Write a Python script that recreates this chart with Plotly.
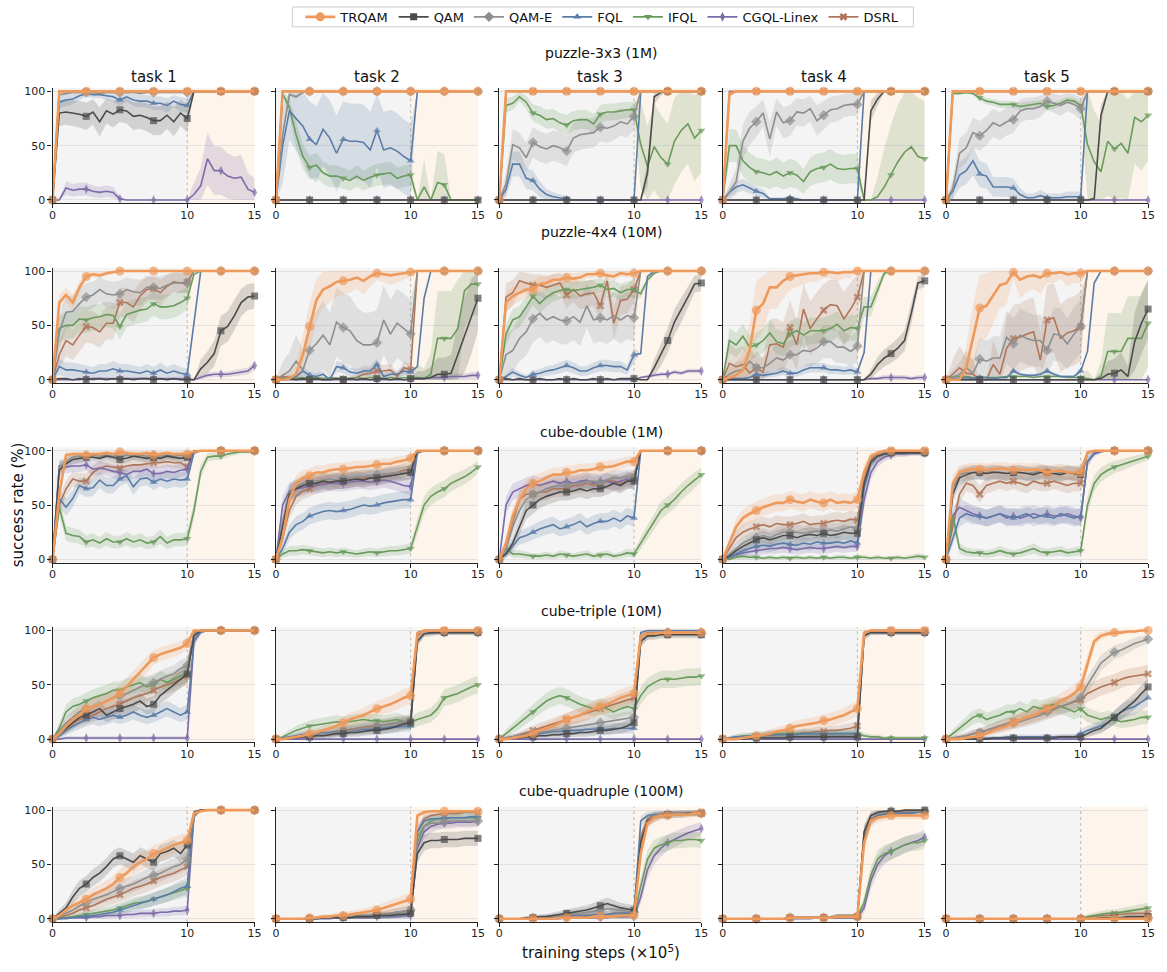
import math
import plotly.graph_objects as go

# ---------------------------------------------------------------- data
STEPS = [0, 0.5, 1, 1.5, 2, 2.5, 3, 3.5, 4, 4.5, 5, 5.5, 6, 6.5, 7, 7.5, 8, 8.5, 9, 9.5, 10,
         10.5, 11, 11.5, 12, 12.5, 13, 13.5, 14, 14.5, 15]
MARKER_STEPS = [0, 2.5, 5, 7.5, 10, 12.5, 15]
METHODS = ["TRQAM", "QAM", "QAM-E", "FQL", "IFQL", "CGQL-Linex", "DSRL"]
ROW_TITLES = ["puzzle-3x3 (1M)", "puzzle-4x4 (10M)", "cube-double (1M)",
              "cube-triple (10M)", "cube-quadruple (100M)"]
TASK_TITLES = ["task 1", "task 2", "task 3", "task 4", "task 5"]
X_TICKS = [0, 10, 15]
Y_TICKS = [0, 50, 100]

# ---- puzzle-3x3 (1M)
P33_T1 = {
    "TRQAM": [0,100,100,100,100,100,100,100,100,100,100, 100,100,100,100,100,100,100,100,100,100, 100,100,100,100,100,100,100,100,100,100],
    "QAM": [0,80,81,80,79,77,81,72,82,79,83, 82,77,78,76,73,73,78,72,80,75, 100,100,100,100,100,100,100,100,100,100],
    "QAM-E": [0,97,98,99,99,99,99,98,99,99,99, 99,99,98,99,99,99,99,99,99,99, 100,100,100,100,100,100,100,100,100,100],
    "FQL": [0,90,92,93,96,98,97,97,96,95,92, 95,92,91,91,89,89,87,91,88,87, 100,100,100,100,100,100,100,100,100,100],
    "IFQL": [0,100,100,100,100,100,100,100,100,100,100, 100,100,100,100,100,100,100,100,100,100, 100,100,100,100,100,100,100,100,100,100],
    "CGQL-Linex": [0,0,11,9,10,10,8,7,8,7,1, 0,0,0,0,0,0,0,0,0,0, 5,13,38,27,27,22,20,21,10,7],
    "DSRL": [0,100,100,100,100,100,100,100,100,100,100, 100,100,100,100,100,100,100,100,100,100, 100,100,100,100,100,100,100,100,100,100],
}
P33_T2 = {
    "TRQAM": [0,100,100,100,100,100,100,100,100,100,100, 100,100,100,100,100,100,100,100,100,100, 100,100,100,100,100,100,100,100,100,100],
    "QAM": [0,0,0,0,0,0,0,0,0,0,0, 0,0,0,0,0,0,0,0,0,0, 0,0,0,0,0,0,0,0,0,0],
    "QAM-E": [0,60,97,95,99,100,100,100,100,100,100, 100,100,100,100,100,100,100,100,100,100, 100,100,100,100,100,100,100,100,100,100],
    "FQL": [0,50,82,75,68,56,51,65,57,43,56, 54,54,53,46,64,46,48,45,40,36, 100,100,100,100,100,100,100,100,100,100],
    "IFQL": [0,98,85,60,40,30,32,25,22,22,20, 18,22,18,21,23,24,25,20,22,23, 0,12,0,16,14,0,0,0,0,0],
    "CGQL-Linex": [0,0,0,0,0,0,0,0,0,0,0, 0,0,0,0,0,0,0,0,0,0, 0,0,0,0,0,0,0,0,0,0],
    "DSRL": [0,100,100,100,100,100,100,100,100,100,100, 100,100,100,100,100,100,100,100,100,100, 100,100,100,100,100,100,100,100,100,100],
}
P33_T3 = {
    "TRQAM": [0,100,100,100,100,100,100,100,100,100,100, 100,100,100,100,100,100,100,100,100,100, 100,100,100,100,100,100,100,100,100,100],
    "QAM": [0,0,0,0,0,0,0,0,0,0,0, 0,0,0,0,0,0,0,0,0,0, 0,25,95,99,100,100,100,100,100,100],
    "QAM-E": [0,15,51,48,39,53,49,47,50,48,45, 57,60,61,62,67,66,68,72,70,77, 100,100,100,100,100,100,100,100,100,100],
    "FQL": [0,10,33,33,20,18,10,5,3,2,1, 0,0,0,0,0,0,0,0,0,0, 100,100,100,100,100,100,100,100,100,100],
    "IFQL": [0,87,89,95,90,80,78,74,75,71,69, 73,74,74,70,79,81,81,82,83,83, 51,31,49,39,33,54,64,70,57,64],
    "CGQL-Linex": [0,0,0,0,0,0,0,0,0,0,0, 0,0,0,0,0,0,0,0,0,0, 0,0,0,0,0,0,0,0,0,0],
    "DSRL": [0,100,100,100,100,100,100,100,100,100,100, 100,100,100,100,100,100,100,100,100,100, 100,100,100,100,100,100,100,100,100,100],
}
P33_T4 = {
    "TRQAM": [0,97,100,100,100,100,100,100,100,100,100, 100,100,100,100,100,100,100,100,100,100, 100,100,100,100,100,100,100,100,100,100],
    "QAM": [0,0,0,0,0,0,0,0,0,0,0, 0,0,0,0,0,0,0,0,0,0, 0,82,93,100,100,100,100,100,100,100],
    "QAM-E": [0,7,17,54,66,72,80,56,81,71,73, 81,80,84,73,78,83,84,87,88,88, 100,100,100,100,100,100,100,100,100,100],
    "FQL": [0,7,12,14,11,8,6,1,1,1,2, 1,0,0,0,0,0,0,0,0,0, 100,100,100,100,100,100,100,100,100,100],
    "IFQL": [0,50,50,36,30,26,25,23,26,22,25, 23,17,26,29,30,33,29,28,29,29, 0,0,3,12,23,35,44,49,40,38],
    "CGQL-Linex": [0,0,0,0,0,0,0,0,0,0,0, 0,0,0,0,0,0,0,0,0,0, 0,0,0,0,0,0,0,0,0,0],
    "DSRL": [0,100,100,100,100,100,100,100,100,100,100, 100,100,100,100,100,100,100,100,100,100, 100,100,100,100,100,100,100,100,100,100],
}
P33_T5 = {
    "TRQAM": [0,100,100,100,100,100,100,100,100,100,100, 100,100,100,100,100,100,100,100,100,100, 100,100,100,100,100,100,100,100,100,100],
    "QAM": [0,0,0,0,0,0,0,0,0,0,0, 0,0,0,0,0,0,0,0,0,0, 0,1,78,100,100,100,100,100,100,100],
    "QAM-E": [0,10,43,48,62,59,64,71,68,72,74, 82,84,84,86,91,89,87,90,88,84, 100,100,100,100,100,100,100,100,100,100],
    "FQL": [0,8,23,27,36,24,22,12,12,12,11, 5,2,2,4,2,2,2,3,3,3, 100,100,100,100,100,100,100,100,100,100],
    "IFQL": [0,98,98,99,98,94,91,90,88,88,88, 86,87,88,89,86,87,89,92,91,87, 51,35,26,54,47,52,43,76,72,78],
    "CGQL-Linex": [0,0,0,0,0,0,0,0,0,0,0, 0,0,0,0,0,0,0,0,0,0, 0,0,0,0,0,0,0,0,0,0],
    "DSRL": [0,100,100,100,100,100,100,100,100,100,100, 100,100,100,100,100,100,100,100,100,100, 100,100,100,100,100,100,100,100,100,100],
}

# ---- puzzle-4x4 (10M)
P44_T1 = {
    "TRQAM": [0,71,78,71,85,95,97,96,98,99,100, 100,100,100,100,100,100,100,100,100,100, 100,100,100,100,100,100,100,100,100,100],
    "QAM": [0,1,1,0,1,0,1,1,0,1,0, 1,0,1,1,0,1,0,1,0,0, 0,10,16,24,45,49,59,71,76,77],
    "QAM-E": [0,44,62,63,70,76,78,83,79,78,79, 83,81,80,85,85,84,87,89,89,89, 100,100,100,100,100,100,100,100,100,100],
    "FQL": [0,12,9,9,8,7,6,8,8,10,8, 8,7,6,8,6,9,6,8,6,5, 55,100,100,100,100,100,100,100,100,100],
    "IFQL": [0,47,50,50,56,55,57,58,60,59,49, 60,62,64,65,70,67,67,68,71,75, 97,100,100,100,100,100,100,100,100,100],
    "CGQL-Linex": [0,0,0,0,0,1,0,1,1,1,1, 1,1,1,1,1,1,1,1,1,1, 0,2,4,5,5,5,6,7,8,13],
    "DSRL": [0,23,36,32,41,49,48,44,52,52,71, 71,67,77,83,84,80,86,90,89,90, 100,100,100,100,100,100,100,100,100,100],
}
P44_T2 = {
    "TRQAM": [0,0,1,5,23,49,73,83,86,90,91, 92,94,91,95,98,97,96,97,98,99, 100,100,100,100,100,100,100,100,100,100],
    "QAM": [0,0,1,0,1,0,1,0,0,1,0, 1,0,1,0,1,1,0,1,0,1, 1,1,2,5,5,6,23,41,58,75],
    "QAM-E": [0,4,8,17,9,27,33,41,32,53,48, 45,36,32,32,34,55,42,52,47,42, 100,100,100,100,100,100,100,100,100,100],
    "FQL": [0,1,1,3,8,4,3,5,0,12,11, 7,6,8,8,14,3,5,5,8,7, 12,75,100,100,100,100,100,100,100,100],
    "IFQL": [0,1,2,1,2,1,2,1,2,1,2, 1,2,1,2,2,1,2,1,2,2, 2,1,5,38,38,38,47,82,88,88],
    "CGQL-Linex": [0,0,0,0,0,0,0,0,0,0,0, 0,0,0,0,0,0,0,0,0,0, 1,1,2,2,2,3,3,3,4,4],
    "DSRL": [0,3,2,1,1,0,1,0,1,1,0, 1,2,5,6,8,8,9,3,11,9, 100,100,100,100,100,100,100,100,100,100],
}
P44_T3 = {
    "TRQAM": [0,71,77,80,83,83,88,89,92,92,94, 93,94,97,97,98,96,95,98,97,98, 100,100,100,100,100,100,100,100,100,100],
    "QAM": [0,1,0,1,0,0,1,0,0,1,0, 1,0,0,1,0,1,0,1,1,1, 0,0,11,23,36,53,64,76,88,89],
    "QAM-E": [0,23,27,38,44,56,61,55,58,55,54, 58,53,68,55,57,55,59,55,59,57, 100,100,100,100,100,100,100,100,100,100],
    "FQL": [0,3,7,4,2,5,6,8,9,11,13, 11,8,8,11,13,13,12,12,9,23, 24,95,100,100,100,100,100,100,100,100],
    "IFQL": [0,42,55,58,67,77,70,76,80,82,83, 82,83,84,85,87,83,84,80,83,83, 79,92,98,100,100,100,100,100,100,100],
    "CGQL-Linex": [0,0,0,0,0,0,0,0,0,0,0, 0,0,0,0,0,0,0,0,0,0, 2,3,4,5,5,7,6,8,8,8],
    "DSRL": [0,76,80,91,89,87,87,85,87,89,78, 83,77,79,80,68,91,52,73,74,83, 100,100,100,100,100,100,100,100,100,100],
}
P44_T4 = {
    "TRQAM": [0,2,4,9,27,64,70,85,85,91,95, 96,97,98,98,99,99,98,99,99,100, 100,100,100,100,100,100,100,100,100,100],
    "QAM": [0,0,0,0,0,0,0,0,0,0,0, 0,0,0,0,0,0,0,0,0,0, 0,5,14,20,24,29,36,61,89,91],
    "QAM-E": [0,5,8,9,17,11,11,15,20,18,23, 23,27,26,29,35,35,30,30,26,31, 100,100,100,100,100,100,100,100,100,100],
    "FQL": [0,1,1,1,2,5,4,5,6,8,6, 6,9,11,11,11,9,9,8,9,7, 25,100,100,100,100,100,100,100,100,100],
    "IFQL": [0,36,32,40,30,32,36,43,35,33,42, 45,41,45,45,45,47,51,45,48,47, 67,67,83,98,100,100,100,100,100,100],
    "CGQL-Linex": [0,0,0,0,0,0,0,0,0,0,0, 0,0,0,0,0,0,0,0,0,0, 0,1,1,2,2,2,2,1,2,2],
    "DSRL": [0,15,12,14,6,11,7,32,33,30,48, 32,65,47,56,64,69,68,56,65,76, 100,100,100,100,100,100,100,100,100,100],
}
P44_T5 = {
    "TRQAM": [0,0,0,11,38,66,68,78,87,89,99, 92,95,96,94,98,98,99,97,98,98, 100,100,100,100,100,100,100,100,100,100],
    "QAM": [0,0,0,0,0,0,0,0,0,0,0, 0,0,0,0,0,0,0,0,0,0, 0,0,1,5,6,9,3,35,52,65],
    "QAM-E": [0,2,5,11,6,19,17,20,20,39,33, 41,38,36,36,27,42,41,33,42,49, 100,100,100,100,100,100,100,100,100,100],
    "FQL": [0,1,1,2,1,2,2,1,2,2,8, 5,4,4,5,8,5,3,3,3,8, 26,89,100,100,100,100,100,100,100,100],
    "IFQL": [0,3,3,3,2,2,2,2,2,3,3, 3,3,2,3,3,3,3,2,2,2, 1,0,3,26,26,26,38,38,38,52],
    "CGQL-Linex": [0,0,0,0,0,0,0,0,0,0,0, 0,0,0,0,0,0,0,0,0,0, 0,0,0,0,0,0,0,0,0,0],
    "DSRL": [0,5,11,6,5,0,0,14,5,29,38, 39,42,44,18,55,57,38,43,45,49, 100,100,100,100,100,100,100,100,100,100],
}

# ---- cube-double (1M)
CD_T1 = {
    "TRQAM": [0,60,96,97,97,96,97,97,98,97,99, 98,97,97,98,96,97,98,97,97,97, 99,100,100,100,100,100,100,100,100,100],
    "QAM": [0,82,88,92,93,94,94,93,95,94,92, 93,95,94,93,94,93,95,94,93,94, 99,100,100,100,100,100,100,100,100,100],
    "QAM-E": [0,85,90,94,95,95,96,95,96,95,95, 96,95,96,95,96,95,96,95,96,95, 99,100,100,100,100,100,100,100,100,100],
    "FQL": [0,56,48,56,68,65,66,73,68,68,74, 77,67,74,75,71,74,72,74,73,74, 98,100,100,100,100,100,100,100,100,100],
    "IFQL": [0,48,24,22,21,16,18,15,19,16,16, 19,16,18,15,16,21,15,18,18,19, 45,81,94,95,95,97,98,99,99,99],
    "CGQL-Linex": [0,86,85,86,86,87,83,84,83,81,80, 78,81,81,83,79,79,81,80,82,83, 99,100,100,100,100,100,100,100,100,100],
    "DSRL": [0,50,65,74,72,72,80,84,86,85,84, 86,87,87,88,89,89,90,89,89,85, 100,100,100,100,100,100,100,100,100,100],
}
CD_T2 = {
    "TRQAM": [0,20,55,70,75,77,80,80,82,83,83, 84,85,85,86,87,88,88,90,91,93, 100,100,100,100,100,100,100,100,100,100],
    "QAM": [0,30,60,65,68,70,70,72,71,72,72, 73,74,73,75,75,76,77,78,79,80, 100,100,100,100,100,100,100,100,100,100],
    "QAM-E": [0,35,62,67,70,72,72,73,74,73,75, 75,76,76,77,78,78,79,80,80,81, 100,100,100,100,100,100,100,100,100,100],
    "FQL": [0,10,25,32,35,40,42,44,45,44,45, 46,48,50,49,50,52,53,54,55,55, 98,100,100,100,100,100,100,100,100,100],
    "IFQL": [0,5,8,8,9,8,7,6,7,6,7, 6,5,6,7,6,7,8,8,9,10, 30,50,58,62,65,70,73,76,80,85],
    "CGQL-Linex": [0,50,63,65,66,68,68,69,70,70,70, 71,72,72,71,72,73,72,70,68,67, 100,100,100,100,100,100,100,100,100,100],
    "DSRL": [0,20,45,58,63,65,68,70,71,72,72, 73,74,75,75,75,77,79,80,82,83, 100,100,100,100,100,100,100,100,100,100],
}
CD_T3 = {
    "TRQAM": [0,15,40,55,65,70,72,75,78,78,80, 80,82,82,83,85,85,86,88,90,90, 100,100,100,100,100,100,100,100,100,100],
    "QAM": [0,5,15,30,45,50,55,58,60,62,62, 63,65,63,65,65,67,70,68,72,72, 100,100,100,100,100,100,100,100,100,100],
    "QAM-E": [0,10,30,45,55,60,62,65,67,68,68, 70,70,72,72,70,73,75,75,76,75, 100,100,100,100,100,100,100,100,100,100],
    "FQL": [0,5,12,20,22,25,28,30,32,28,30, 32,35,30,33,35,35,38,35,40,38, 100,100,100,100,100,100,100,100,100,100],
    "IFQL": [0,10,5,5,4,3,3,4,3,5,4, 3,4,5,3,4,5,3,4,6,5, 15,25,35,45,50,55,62,68,73,78],
    "CGQL-Linex": [0,50,62,65,68,70,68,70,72,70,72, 70,72,73,70,72,72,70,72,74,72, 100,100,100,100,100,100,100,100,100,100],
    "DSRL": [0,10,35,55,60,60,62,62,65,65,65, 68,68,70,68,70,72,72,70,72,75, 100,100,100,100,100,100,100,100,100,100],
}
CD_T4 = {
    "TRQAM": [0,15,30,38,42,45,48,50,52,52,55, 53,52,55,53,52,55,52,53,52,55, 80,95,98,100,100,100,100,100,100,100],
    "QAM": [0,3,8,12,15,18,20,18,20,22,22, 20,22,23,22,24,22,23,25,24,24, 70,90,95,97,98,98,98,98,98,98],
    "QAM-E": [0,5,10,15,18,20,22,20,23,25,25, 25,24,25,26,25,27,26,28,30,28, 70,90,95,97,98,98,98,98,98,98],
    "FQL": [0,2,5,8,10,12,13,12,14,15,14, 13,15,14,16,15,15,16,15,17,15, 65,88,95,97,98,98,98,98,98,98],
    "IFQL": [0,0,2,3,2,2,1,2,1,2,1, 2,1,2,1,2,1,2,2,1,2, 2,1,2,1,1,2,1,2,3,2],
    "CGQL-Linex": [0,2,4,6,7,8,9,10,10,11,10, 9,10,11,10,10,11,12,11,12,12, 55,80,90,94,96,97,97,98,98,98],
    "DSRL": [0,10,20,25,28,30,32,30,33,32,32, 33,35,32,33,33,35,36,35,37,36, 75,92,97,99,100,100,100,100,100,100],
}
CD_T5 = {
    "TRQAM": [0,70,80,82,83,83,82,83,84,83,82, 83,82,83,82,80,81,82,80,80,80, 98,100,100,100,100,100,100,100,100,100],
    "QAM": [0,60,75,78,80,80,79,80,80,79,80, 80,79,78,80,80,79,78,80,79,78, 98,100,100,100,100,100,100,100,100,100],
    "QAM-E": [0,65,78,80,80,80,80,81,80,79,80, 80,79,80,81,80,79,80,80,79,80, 98,100,100,100,100,100,100,100,100,100],
    "FQL": [0,20,38,42,40,40,38,40,42,40,38, 40,42,38,40,40,38,42,40,38,40, 90,98,100,100,100,100,100,100,100,100],
    "IFQL": [0,40,10,7,6,6,5,6,8,6,5, 6,8,10,7,6,7,8,6,7,8, 50,70,78,82,85,87,89,91,93,95],
    "CGQL-Linex": [0,40,48,45,42,40,38,40,42,38,40, 38,40,42,40,42,40,40,42,40,38, 90,97,99,100,100,100,100,100,100,100],
    "DSRL": [0,30,60,70,68,60,68,70,72,70,72, 70,68,72,70,70,72,70,68,70,70, 98,100,100,100,100,100,100,100,100,100],
}

# ---- cube-triple (10M)
CT_T1 = {
    "TRQAM": [0,5,12,18,22,28,30,32,35,38,42, 48,55,62,68,75,78,80,82,84,88, 100,100,100,100,100,100,100,100,100,100],
    "QAM": [0,5,10,15,20,22,25,28,22,25,28, 30,32,35,30,32,40,45,50,55,60, 95,100,100,100,100,100,100,100,100,100],
    "QAM-E": [0,8,15,20,25,28,30,32,35,38,40, 42,45,48,50,52,55,58,60,65,68, 98,100,100,100,100,100,100,100,100,100],
    "FQL": [0,3,8,12,15,18,20,18,20,22,20, 22,25,22,20,22,25,28,25,22,25, 90,100,100,100,100,100,100,100,100,100],
    "IFQL": [0,10,25,30,32,35,38,40,42,45,45, 48,50,52,48,50,55,52,55,58,60, 98,100,100,100,100,100,100,100,100,100],
    "CGQL-Linex": [0,0,1,1,1,1,1,1,1,1,1, 1,1,1,1,1,1,1,1,1,1, 90,98,100,100,100,100,100,100,100,100],
    "DSRL": [0,5,10,15,18,20,22,25,28,30,32, 35,38,40,42,45,48,50,52,55,58, 98,100,100,100,100,100,100,100,100,100],
}
CT_T2 = {
    "TRQAM": [0,0,1,2,3,5,6,8,10,12,15, 18,20,22,25,28,30,32,35,38,40, 97,100,100,100,100,100,100,100,100,100],
    "QAM": [0,0,1,1,2,2,3,3,4,5,5, 6,6,7,8,8,9,10,12,14,15, 90,97,98,98,98,98,98,98,98,98],
    "QAM-E": [0,0,1,2,3,3,4,5,5,6,7, 8,9,10,11,12,13,14,15,16,17, 90,97,97,98,98,98,98,98,98,98],
    "FQL": [0,1,2,3,4,5,5,6,6,7,7, 8,8,9,9,10,10,11,11,12,12, 98,100,100,100,100,100,100,100,100,100],
    "IFQL": [0,2,5,8,10,12,13,14,15,16,15, 16,17,18,17,17,16,17,18,16,15, 18,20,22,28,38,40,42,45,48,50],
    "CGQL-Linex": [0,0,0,0,0,0,0,0,0,0,0, 0,0,0,0,0,0,0,0,0,0, 0,0,0,0,0,0,0,0,0,0],
    "DSRL": [0,0,1,2,3,3,4,5,6,7,8, 9,10,11,12,12,13,14,15,15,16, 95,100,100,100,100,100,100,100,100,100],
}
CT_T3 = {
    "TRQAM": [0,0,1,2,3,5,8,10,12,15,18, 20,22,25,28,30,32,35,38,40,42, 95,97,97,98,98,98,98,98,98,98],
    "QAM": [0,0,1,1,2,2,3,3,4,4,5, 5,6,6,7,8,8,9,10,12,15, 90,95,95,96,96,96,96,96,96,96],
    "QAM-E": [0,1,2,3,4,5,6,7,8,9,10, 11,12,13,14,15,16,17,18,19,20, 90,95,97,97,97,97,97,97,97,97],
    "FQL": [0,1,2,3,4,5,5,6,7,7,8, 8,8,9,9,9,9,10,10,10,10, 98,100,100,100,100,100,100,100,100,100],
    "IFQL": [0,5,10,15,20,25,30,35,38,40,38, 35,32,30,28,30,28,25,28,30,28, 40,48,52,55,55,55,56,57,57,58],
    "CGQL-Linex": [0,0,0,0,0,0,0,0,0,0,0, 0,0,0,0,0,0,0,0,0,0, 0,0,0,0,0,0,0,0,0,0],
    "DSRL": [0,1,2,4,6,8,10,12,14,16,18, 20,22,24,26,28,30,32,34,36,38, 95,98,98,98,98,98,98,98,98,98],
}
CT_T4 = {
    "TRQAM": [0,0,0,1,2,3,4,5,7,8,10, 12,13,14,15,17,18,20,22,25,28, 98,100,100,100,100,100,100,100,100,100],
    "QAM": [0,0,0,0,1,1,1,1,1,1,2, 2,2,2,2,2,2,2,2,2,2, 95,98,98,98,98,98,98,98,98,98],
    "QAM-E": [0,0,0,1,1,1,1,2,2,2,2, 2,2,3,3,3,3,3,3,3,3, 95,98,98,98,98,98,98,98,98,98],
    "FQL": [0,1,2,2,3,3,3,4,4,4,4, 4,5,5,5,5,5,5,5,5,5, 98,100,100,100,100,100,100,100,100,100],
    "IFQL": [0,1,2,3,3,4,4,5,5,5,5, 5,5,5,5,5,5,5,5,5,5, 3,2,2,1,1,1,1,1,1,1],
    "CGQL-Linex": [0,0,0,0,0,0,0,0,0,0,0, 0,0,0,0,0,0,0,0,0,0, 0,0,0,0,0,0,0,0,0,0],
    "DSRL": [0,0,1,1,2,2,3,3,4,4,5, 5,6,6,7,7,8,8,9,10,12, 98,100,100,100,100,100,100,100,100,100],
}
CT_T5 = {
    "TRQAM": [0,0,0,1,2,3,5,8,10,12,15, 18,20,22,25,28,30,35,38,42,48, 70,90,95,97,98,98,99,99,100,100],
    "QAM": [0,0,0,0,0,0,0,1,1,1,1, 1,1,1,1,1,1,2,2,2,2, 5,8,10,15,20,25,30,35,42,48],
    "QAM-E": [0,1,2,3,5,6,8,10,12,14,15, 16,18,20,22,25,27,30,32,35,38, 50,60,70,75,80,82,85,88,90,92],
    "FQL": [0,0,0,1,1,1,1,1,1,2,2, 2,2,2,2,2,2,2,2,2,5, 8,10,12,15,20,25,28,30,34,38],
    "IFQL": [0,5,10,15,20,22,18,20,22,25,25, 28,25,30,28,30,32,30,28,25,28, 22,20,18,20,18,16,17,18,20,20],
    "CGQL-Linex": [0,0,0,0,0,0,0,0,0,0,0, 0,0,0,0,0,0,0,0,0,0, 0,0,0,0,0,0,0,0,0,0],
    "DSRL": [0,1,2,3,5,6,8,10,12,14,16, 18,20,22,24,26,28,30,32,34,36, 42,45,48,50,52,55,57,58,59,60],
}

# ---- cube-quadruple (100M)
CQ_T1 = {
    "TRQAM": [0,3,8,12,15,18,22,25,28,32,38, 42,48,52,55,60,62,65,68,70,72, 97,99,100,100,100,100,100,100,100,100],
    "QAM": [0,5,10,20,28,32,38,42,48,55,58, 55,52,58,55,52,60,62,65,60,68, 98,100,100,100,100,100,100,100,100,100],
    "QAM-E": [0,2,5,8,12,15,18,20,22,25,28, 30,32,35,38,40,42,45,48,50,55, 98,100,100,100,100,100,100,100,100,100],
    "FQL": [0,0,1,1,2,2,3,4,5,6,8, 10,12,14,16,18,20,22,25,28,30, 95,100,100,100,100,100,100,100,100,100],
    "IFQL": [0,0,1,2,3,4,5,6,7,8,10, 12,14,15,16,18,20,22,24,26,28, 95,100,100,100,100,100,100,100,100,100],
    "CGQL-Linex": [0,0,0,1,1,1,2,2,3,3,3, 4,4,5,5,5,6,6,7,7,8, 95,100,100,100,100,100,100,100,100,100],
    "DSRL": [0,1,3,5,8,10,12,15,18,20,22, 25,28,30,32,35,38,40,42,45,48, 97,100,100,100,100,100,100,100,100,100],
}
CQ_T2 = {
    "TRQAM": [0,0,0,0,0,1,1,2,2,3,3, 4,5,6,7,8,10,12,14,16,18, 95,98,99,99,99,99,99,99,99,99],
    "QAM": [0,0,0,0,0,0,0,1,1,1,1, 1,2,2,2,3,3,3,4,4,5, 60,70,72,72,73,73,73,74,74,74],
    "QAM-E": [0,0,0,0,0,0,1,1,1,1,2, 2,2,3,3,4,4,5,6,7,8, 75,85,88,88,89,90,90,90,90,90],
    "FQL": [0,0,0,0,0,0,0,1,1,1,1, 1,2,2,2,3,3,3,4,4,5, 80,90,92,92,93,93,93,93,94,94],
    "IFQL": [0,0,0,0,0,0,0,1,1,1,1, 1,2,2,2,3,3,3,4,4,5, 70,85,90,92,92,93,93,93,93,93],
    "CGQL-Linex": [0,0,0,0,0,0,0,0,0,1,1, 1,1,1,1,2,2,2,2,3,3, 65,80,85,87,88,88,89,89,89,90],
    "DSRL": [0,0,0,0,0,0,1,1,1,1,2, 2,2,3,3,4,4,5,6,7,8, 80,92,95,96,97,97,97,98,98,98],
}
CQ_T3 = {
    "TRQAM": [0,0,0,0,0,0,0,0,0,1,1, 1,1,1,2,2,2,2,3,3,3, 60,88,93,95,95,96,96,96,97,97],
    "QAM": [0,0,0,0,1,1,2,2,3,4,5, 6,7,8,10,12,14,12,10,9,8, 70,90,93,95,96,96,96,97,97,97],
    "QAM-E": [0,0,0,0,1,1,1,2,2,3,4, 5,5,6,7,8,9,9,8,7,6, 70,90,95,96,96,97,97,97,97,97],
    "FQL": [0,0,0,0,0,1,1,1,2,2,2, 3,3,3,4,4,4,5,5,5,5, 90,95,96,96,97,97,97,97,97,97],
    "IFQL": [0,0,0,0,0,0,0,1,1,1,1, 1,1,2,2,2,2,2,3,3,3, 30,55,65,68,70,72,72,73,73,72],
    "CGQL-Linex": [0,0,0,0,0,0,0,0,0,0,1, 1,1,1,1,1,1,2,2,2,2, 20,45,58,65,70,73,76,79,81,83],
    "DSRL": [0,0,0,0,0,1,1,1,2,2,2, 3,3,3,4,4,4,5,5,5,5, 75,92,95,96,96,97,97,97,98,98],
}
CQ_T4 = {
    "TRQAM": [0,0,0,0,0,0,0,0,0,0,1, 1,1,1,1,1,1,2,2,2,2, 70,90,93,94,95,95,95,95,95,95],
    "QAM": [0,0,0,0,0,0,0,0,0,0,1, 1,1,1,1,1,1,2,2,2,2, 80,95,98,99,99,99,100,100,100,100],
    "QAM-E": [0,0,0,0,0,0,0,0,0,0,1, 1,1,1,1,1,1,2,2,2,2, 80,95,97,98,99,99,99,99,99,99],
    "FQL": [0,0,0,0,0,0,0,0,0,0,1, 1,1,1,1,1,1,2,2,2,2, 75,90,95,96,97,97,97,97,98,98],
    "IFQL": [0,0,0,0,0,0,0,0,0,0,1, 1,1,1,1,1,1,2,2,2,2, 15,40,55,60,62,65,68,70,70,72],
    "CGQL-Linex": [0,0,0,0,0,0,0,0,0,0,0, 0,0,0,1,1,1,1,1,1,1, 10,35,50,58,62,65,68,70,72,75],
    "DSRL": [0,0,0,0,0,0,0,0,0,0,1, 1,1,1,1,1,1,2,2,2,2, 75,92,95,97,97,97,98,98,98,98],
}
CQ_T5 = {
    "TRQAM": [0,0,0,0,0,0,0,0,0,0,0, 0,0,0,0,0,0,0,0,0,0, 0,0,0,0,0,0,0,0,0,0],
    "QAM": [0,0,0,0,0,0,0,0,0,0,0, 0,0,0,0,0,0,0,0,0,0, 0,0,1,1,1,1,2,2,2,2],
    "QAM-E": [0,0,0,0,0,0,0,0,0,0,0, 0,0,0,0,0,0,0,0,0,0, 0,0,0,0,1,1,1,1,1,1],
    "FQL": [0,0,0,0,0,0,0,0,0,0,0, 0,0,0,0,0,0,0,0,0,0, 0,0,0,0,0,0,0,0,0,0],
    "IFQL": [0,0,0,0,0,0,0,0,0,0,0, 0,0,0,0,0,0,0,0,0,0, 2,3,4,5,5,6,7,8,9,10],
    "CGQL-Linex": [0,0,0,0,0,0,0,0,0,0,0, 0,0,0,0,0,0,0,0,0,0, 0,0,0,0,0,0,0,0,0,0],
    "DSRL": [0,0,0,0,0,0,0,0,0,0,0, 0,0,0,0,0,0,0,0,0,0, 1,2,3,3,4,4,5,5,5,5],
}

PANELS = [
    [P33_T1, P33_T2, P33_T3, P33_T4, P33_T5],
    [P44_T1, P44_T2, P44_T3, P44_T4, P44_T5],
    [CD_T1, CD_T2, CD_T3, CD_T4, CD_T5],
    [CT_T1, CT_T2, CT_T3, CT_T4, CT_T5],
    [CQ_T1, CQ_T2, CQ_T3, CQ_T4, CQ_T5],
]

# ---- shaded-band spread (before step 10, after step 10) per method and panel
BAND_DEFAULT = (8, 8)
BANDS = [
    [{"QAM": (15, 0), "QAM-E": (5, 0), "FQL": (10, 0), "CGQL-Linex": (10, 25)},
     {"FQL": (35, 0), "IFQL": (12, 40), "QAM-E": (5, 0)},
     {"QAM-E": (14, 0), "FQL": (12, 0), "IFQL": (10, 40), "QAM": (0, 15)},
     {"QAM-E": (16, 0), "FQL": (8, 0), "IFQL": (15, 55), "QAM": (0, 12)},
     {"QAM-E": (14, 0), "FQL": (14, 0), "IFQL": (5, 50), "QAM": (0, 12)}],
    [{"TRQAM": (8, 0), "QAM": (2, 14), "QAM-E": (15, 0), "FQL": (12, 0), "IFQL": (12, 0), "CGQL-Linex": (1, 6), "DSRL": (15, 0)},
     {"TRQAM": (22, 0), "QAM": (1, 35), "QAM-E": (32, 0), "FQL": (8, 0), "IFQL": (2, 45), "DSRL": (10, 0)},
     {"TRQAM": (10, 0), "QAM": (1, 12), "QAM-E": (22, 0), "FQL": (8, 0), "IFQL": (10, 5), "CGQL-Linex": (0, 4), "DSRL": (15, 0)},
     {"TRQAM": (28, 0), "QAM": (0, 10), "QAM-E": (16, 0), "FQL": (7, 0), "IFQL": (12, 10), "DSRL": (25, 0)},
     {"TRQAM": (32, 0), "QAM": (0, 28), "QAM-E": (25, 0), "FQL": (4, 0), "IFQL": (2, 40), "DSRL": (32, 0)}],
    [{}, {}, {}, {}, {}],
    [{}, {}, {}, {}, {}],
    [{}, {}, {}, {}, {}],
]

# ---------------------------------------------------------------- style
COLORS = {"TRQAM": "#EE9A5C", "QAM": "#4B4B4B", "QAM-E": "#8E8E8E", "FQL": "#5A7CA6",
          "IFQL": "#6A9A5C", "CGQL-Linex": "#7B6BA8", "DSRL": "#B0765A"}
SYMBOLS = {"TRQAM": "circle", "QAM": "square", "QAM-E": "diamond", "FQL": "triangle-up",
           "IFQL": "triangle-down", "CGQL-Linex": "diamond-tall", "DSRL": "x"}
MSIZE = {"TRQAM": 9, "QAM": 7, "QAM-E": 8, "FQL": 7, "IFQL": 7, "CGQL-Linex": 7, "DSRL": 7}
LWIDTH = {"TRQAM": 2.6, "QAM": 1.6, "QAM-E": 1.6, "FQL": 1.6, "IFQL": 1.6, "CGQL-Linex": 1.6, "DSRL": 1.6}
FONT = "DejaVu Sans"

W, H = 1167, 972
COL_LEFT = [49, 274.5, 500, 725.5, 951]
PLOT_W = 204
ROW_TOP = [85.7, 266.7, 447.7, 628.7, 809.7]
PLOT_H = 116


def rgba(hexc, a):
    h = hexc.lstrip("#")
    return "rgba(%d,%d,%d,%.2f)" % (int(h[0:2], 16), int(h[2:4], 16), int(h[4:6], 16), a)


fig = go.Figure()
layout = dict(width=W, height=H, margin=dict(l=0, r=0, t=0, b=0),
              paper_bgcolor="white", plot_bgcolor="rgba(0,0,0,0)",
              font=dict(family=FONT, color="#222"), showlegend=True)
shapes = []
annotations = []

draw_order = METHODS[::-1]
msizes_template = [1 if s in MARKER_STEPS else 0 for s in STEPS]

for r in range(5):
    for c in range(5):
        k = r * 5 + c + 1
        xa = "x" if k == 1 else "x%d" % k
        ya = "y" if k == 1 else "y%d" % k
        xname = "xaxis" if k == 1 else "xaxis%d" % k
        yname = "yaxis" if k == 1 else "yaxis%d" % k
        x0 = COL_LEFT[c] / W
        x1 = (COL_LEFT[c] + PLOT_W) / W
        y1 = 1 - ROW_TOP[r] / H
        y0 = 1 - (ROW_TOP[r] + PLOT_H) / H
        layout[xname] = dict(domain=[x0, x1], anchor=ya, range=[0, 15], tickvals=X_TICKS,
                             ticks="outside", ticklen=4, tickwidth=1, tickcolor="#222",
                             ticklabelstandoff=-3,
                             showline=True, linecolor="#222", linewidth=1.2,
                             showgrid=False, zeroline=False,
                             tickfont=dict(size=11, family=FONT, color="#222"))
        layout[yname] = dict(domain=[y0, y1], anchor=xa, range=[-3, 103], tickvals=Y_TICKS,
                             ticks="outside", ticklen=4, tickwidth=1, tickcolor="#222",
                             showline=True, linecolor="#222", linewidth=1.2,
                             showgrid=True, gridcolor="#e2e2e2", gridwidth=1, zeroline=False,
                             showticklabels=(c == 0),
                             tickfont=dict(size=11, family=FONT, color="#222"))
        shapes.append(dict(type="rect", xref=xa, yref=ya + " domain", x0=0, x1=10, y0=0, y1=1,
                           fillcolor="#f4f4f4", line=dict(width=0), layer="below"))
        shapes.append(dict(type="rect", xref=xa, yref=ya + " domain", x0=10, x1=15, y0=0, y1=1,
                           fillcolor="#fdf4ec", line=dict(width=0), layer="below"))
        shapes.append(dict(type="line", xref=xa, yref=ya + " domain", x0=10, x1=10, y0=0, y1=1,
                           line=dict(color="#b8b8b8", width=1, dash="dot"), layer="below"))

        data = PANELS[r][c]
        band = BANDS[r][c]
        # shaded bands
        for m in draw_order:
            vals = data[m]
            pre, post = band.get(m, BAND_DEFAULT)
            lo, hi = [], []
            for s, v in zip(STEPS, vals):
                spread = pre if s <= 10 else post
                hw = spread * math.sqrt(max(v, 0) * max(100 - v, 0)) / 50.0
                lo.append(max(0, v - hw))
                hi.append(min(100, v + hw))
            fig.add_trace(go.Scatter(x=STEPS + STEPS[::-1], y=hi + lo[::-1], fill="toself",
                                     fillcolor=rgba(COLORS[m], 0.2), line=dict(width=0),
                                     mode="lines", hoverinfo="skip", showlegend=False,
                                     xaxis=xa, yaxis=ya))
        # lines with markers
        for m in draw_order:
            fig.add_trace(go.Scatter(x=STEPS, y=data[m], mode="lines+markers",
                                     line=dict(color=COLORS[m], width=LWIDTH[m]),
                                     marker=dict(symbol=SYMBOLS[m], color=COLORS[m],
                                                 size=[MSIZE[m] * t for t in msizes_template],
                                                 line=dict(width=0)),
                                     cliponaxis=False, showlegend=False, name=m,
                                     xaxis=xa, yaxis=ya))
        if r == 0:
            annotations.append(dict(text=TASK_TITLES[c], xref="paper", yref="paper",
                                    x=(COL_LEFT[c] + PLOT_W / 2) / W, y=1 - 75 / H,
                                    xanchor="center", yanchor="middle", showarrow=False,
                                    font=dict(size=15, family=FONT, color="#111")))

# legend-only traces
for m in METHODS:
    fig.add_trace(go.Scatter(x=[None], y=[None], mode="lines+markers", name=m,
                             line=dict(color=COLORS[m], width=LWIDTH[m]),
                             marker=dict(symbol=SYMBOLS[m], color=COLORS[m], size=MSIZE[m]),
                             showlegend=True, xaxis="x", yaxis="y"))

ROW_TITLE_Y = [50, 231, 432, 612, 794]
for r in range(5):
    annotations.append(dict(text=ROW_TITLES[r], xref="paper", yref="paper",
                            x=603 / W, y=1 - ROW_TITLE_Y[r] / H, xanchor="center", yanchor="middle",
                            showarrow=False, font=dict(size=14, family=FONT, color="#111")))

annotations.append(dict(text="success rate (%)", xref="paper", yref="paper", x=14 / W, y=1 - 505 / H,
                        textangle=-90, xanchor="center", yanchor="middle", showarrow=False,
                        font=dict(size=15, family=FONT, color="#111")))
annotations.append(dict(text="training steps (×10<sup>5</sup>)", xref="paper", yref="paper",
                        x=603 / W, y=1 - 956 / H, xanchor="center", yanchor="middle", showarrow=False,
                        font=dict(size=15, family=FONT, color="#111")))

# legend frame
shapes.append(dict(type="rect", xref="paper", yref="paper", x0=291 / W, x1=918 / W,
                   y0=1 - 24 / H, y1=1 - 4 / H, line=dict(color="#cccccc", width=1),
                   fillcolor="rgba(0,0,0,0)", layer="above"))

layout["shapes"] = shapes
layout["annotations"] = annotations
layout["legend"] = dict(orientation="h", x=604 / W, xanchor="center", y=1 - 14 / H, yanchor="middle",
                        borderwidth=0, bgcolor="rgba(0,0,0,0)",
                        font=dict(size=13, family=FONT, color="#111"),
                        itemwidth=30, tracegroupgap=0, traceorder="normal")
fig.update_layout(**layout)
fig.write_html("out.html")
